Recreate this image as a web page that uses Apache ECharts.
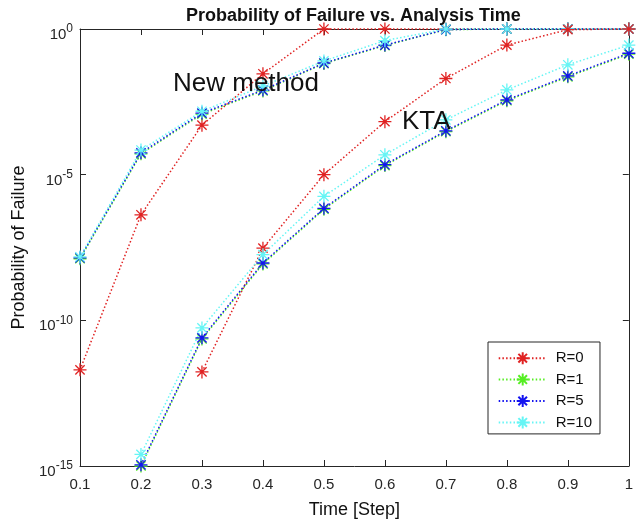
<!DOCTYPE html>
<html>
<head>
<meta charset="utf-8">
<script src="https://cdn.jsdelivr.net/npm/echarts@6/dist/echarts.min.js"></script>
<style>html,body{margin:0;padding:0;background:#fff}#c{width:636px;height:524px}</style>
</head>
<body>
<div id="c"></div>
<script>
// ---- data ----
const xValues = [0.1, 0.2, 0.3, 0.4, 0.5, 0.6, 0.7, 0.8, 0.9, 1.0];
const legendNames = ['R=0', 'R=1', 'R=5', 'R=10'];
const yTickExps = [-15, -10, -5, 0];

// "New method" group
const newR0  = [2e-12, 4.2e-7, 5e-4,   0.029,  1,     1,    1,    1, 1, 1];
const newR1  = [1.3e-8, 5.2e-5, 1.2e-3, 0.0075, 0.065, 0.27, 0.95, 1, 1, 1];
const newR5  = [1.4e-8, 5.6e-5, 1.3e-3, 0.008,  0.068, 0.28, 0.96, 1, 1, 1];
const newR10 = [1.5e-8, 7e-5,   1.5e-3, 0.011,  0.08,  0.4,  1,    1, 1, 1];

// "KTA" group
const ktaR0  = [null, null,    1.7e-12, 3e-8,   1e-5,   6.6e-4, 0.02,   0.28,   0.95,   1];
const ktaR1  = [null, 1.0e-15, 2.3e-11, 8.6e-9, 6.5e-7, 2.05e-5, 3e-4,  3.45e-3, 0.0228, 0.137];
const ktaR5  = [null, 1.1e-15, 2.5e-11, 9.3e-9, 7e-7,   2.2e-5, 3.2e-4, 3.7e-3, 0.0245, 0.147];
const ktaR10 = [null, 2.5e-15, 5.5e-11, 1.8e-8, 1.8e-6, 4.8e-5, 7.6e-4, 8.1e-3, 0.059,  0.28];

const colors = ['#e02222', '#55ee22', '#1414f0', '#66f5f5'];
// ---------------

const FONT = '"Liberation Sans", Arial, Helvetica, sans-serif';
const INK = '#262626';
const STAR = 'path://M0 -6L0 6M-6 0L6 0M-4.3 -4.3L4.3 4.3M-4.3 4.3L4.3 -4.3';

function mkSeries(name, data, color) {
  return {
    name: name,
    type: 'line',
    data: xValues.map((x, i) => [x, data[i]]),
    symbol: STAR,
    symbolSize: 13,
    showAllSymbol: true,
    clip: false,
    color: color,
    itemStyle: { color: color, borderColor: color, borderWidth: 1.3 },
    lineStyle: { color: color, width: 1.5, type: [1.5, 2.2] },
    emphasis: { disabled: true }
  };
}

const groups = [
  [newR0, newR1, newR5, newR10],
  [ktaR0, ktaR1, ktaR5, ktaR10]
];
const series = [];
groups.forEach(g => g.forEach((d, i) => series.push(mkSeries(legendNames[i], d, colors[i]))));

const tickCommon = { show: true, inside: true, length: 6, lineStyle: { color: INK, width: 1 } };
const lineCommon = { show: true, lineStyle: { color: INK, width: 1 } };

const option = {
  animation: false,
  backgroundColor: '#fff',
  textStyle: { fontFamily: FONT },
  title: {
    text: 'Probability of Failure vs. Analysis Time',
    left: 181, top: 2,
    textStyle: { fontFamily: FONT, fontSize: 18, fontWeight: 'bold', color: '#111' }
  },
  grid: { left: 80, right: 3, top: 29, bottom: 57.5, containLabel: false },
  legend: {
    data: legendNames,
    orient: 'vertical',
    left: 488, top: 342,
    padding: [8.7, 8, 4, 9.7],
    itemWidth: 48, itemHeight: 15, itemGap: 6.4,
    backgroundColor: '#fff',
    borderColor: INK, borderWidth: 1, borderRadius: 0,
    textStyle: { fontFamily: FONT, fontSize: 15, color: '#111', padding: [0, 0, 0, 4] }
  },
  xAxis: [{
    type: 'value', min: 0.1, max: 1, interval: 0.1,
    name: 'Time [Step]', nameLocation: 'middle', nameGap: 35,
    nameTextStyle: { fontFamily: FONT, fontSize: 18, color: '#111' },
    axisLine: lineCommon, axisTick: tickCommon, splitLine: { show: false },
    axisLabel: {
      fontFamily: FONT, fontSize: 15, color: INK, margin: 11,
      formatter: v => (Math.abs(v - 1) < 1e-9 ? '1' : v.toFixed(1))
    }
  }, {
    type: 'value', position: 'top', min: 0.1, max: 1, interval: 0.1,
    axisLine: lineCommon, axisTick: tickCommon, splitLine: { show: false },
    axisLabel: { show: false }
  }],
  yAxis: [{
    type: 'log', logBase: 10, min: Math.pow(10, yTickExps[0]), max: Math.pow(10, yTickExps[yTickExps.length - 1]), interval: 5,
    name: 'Probability of Failure', nameLocation: 'middle', nameGap: 52,
    nameTextStyle: { fontFamily: FONT, fontSize: 18, color: '#111' },
    axisLine: lineCommon, axisTick: tickCommon, splitLine: { show: false }, minorTick: { show: false },
    axisLabel: {
      margin: 7,
      formatter: v => '{b|10}{s|' + Math.round(Math.log10(v)) + '}',
      rich: {
        b: { fontFamily: FONT, fontSize: 15, color: INK, padding: [12, 0, 0, 0] },
        s: { fontFamily: FONT, fontSize: 12, color: INK, padding: [0, 0, 0, 0] }
      }
    }
  }, {
    type: 'log', logBase: 10, position: 'right', min: Math.pow(10, yTickExps[0]), max: Math.pow(10, yTickExps[yTickExps.length - 1]), interval: 5,
    axisLine: lineCommon, axisTick: tickCommon, splitLine: { show: false }, axisLabel: { show: false }
  }],
  graphic: [
    { type: 'text', left: 173, top: 71, style: { text: 'New method', fontFamily: FONT, fontSize: 26, fill: '#111' }, z: 100 },
    { type: 'text', left: 402, top: 109, style: { text: 'KTA', fontFamily: FONT, fontSize: 26, fill: '#111' }, z: 100 }
  ],
  series: series
};

const chart = echarts.init(document.getElementById('c'), null, { renderer: 'canvas' });
chart.setOption(option);
</script>
</body>
</html>
